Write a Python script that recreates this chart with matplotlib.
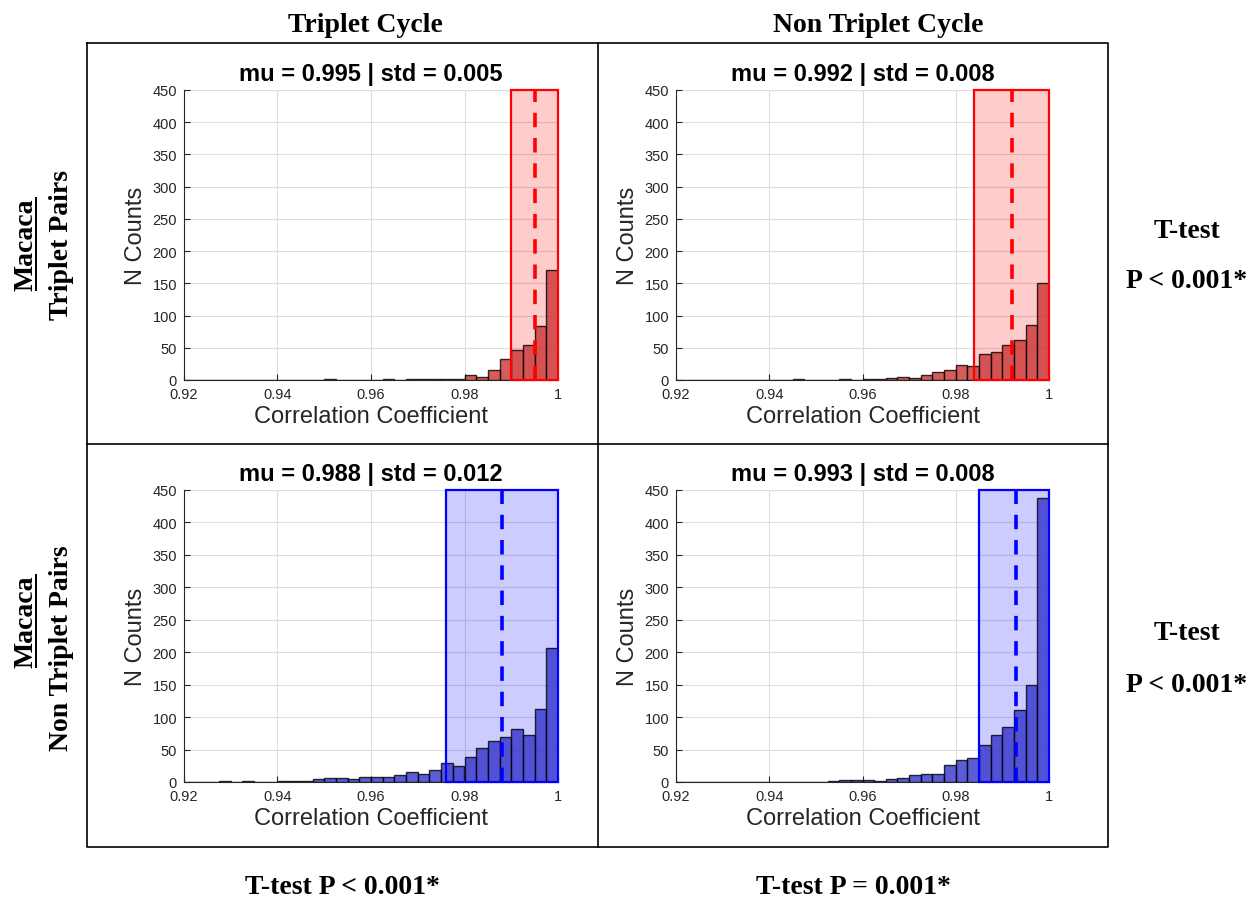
import numpy as np
import matplotlib.pyplot as plt
from matplotlib.patches import Rectangle
from matplotlib.lines import Line2D

# histogram bins (correlation coefficient)
edges = np.linspace(0.92, 1.0, 33)

# counts per bin, 32 bins from 0.92 to 1.0
tp_triplet = [0, 0, 0, 0, 0, 0, 0, 0, 0, 0, 0, 0, 1, 0, 0, 0,
              0, 1, 0, 1, 1, 1, 1, 2, 8, 4, 15, 33, 47, 54, 84, 171]
tp_nontriplet = [0, 0, 0, 0, 0, 0, 0, 0, 0, 0, 1, 0, 0, 0, 1, 0,
                 1, 1, 3, 4, 3, 8, 12, 16, 23, 22, 40, 43, 54, 62, 85, 151]
ntp_triplet = [0, 0, 0, 2, 0, 1, 0, 0, 1, 2, 1, 4, 6, 6, 4, 8,
               8, 8, 11, 15, 12, 18, 29, 24, 38, 53, 63, 70, 81, 73, 112, 206]
ntp_nontriplet = [0, 0, 0, 0, 0, 0, 0, 0, 0, 0, 0, 0, 0, 1, 3, 3,
                  3, 1, 5, 6, 11, 13, 13, 26, 34, 37, 57, 72, 84, 111, 149, 437]

means = [0.995, 0.992, 0.988, 0.993]
stds = [0.005, 0.008, 0.012, 0.008]

col_titles = ["Triplet Cycle", "Non Triplet Cycle"]
row_titles = ["Triplet Pairs", "Non Triplet Pairs"]
row_ttest = ["P < 0.001*", "P < 0.001*"]
col_ttest = ["T-test P < 0.001*", "T-test P = 0.001*"]

W, H = 1258, 903
fig = plt.figure(figsize=(W / 100, H / 100), dpi=100)


def fx(px):
    return px / W


def fy(py):
    return 1 - py / H


# panel boxes in pixels: left, top, right, bottom
boxes = [(184, 91, 558, 381), (676, 91, 1049, 381),
         (184, 491, 558, 783), (676, 491, 1049, 783)]
data = [tp_triplet, tp_nontriplet, ntp_triplet, ntp_nontriplet]
bar_cols = [(0.8, 0.2, 0.2), (0.8, 0.2, 0.2), (0.2, 0.2, 0.8), (0.2, 0.2, 0.8)]
line_cols = ["red", "red", "blue", "blue"]

sans = "Liberation Sans"
serif = "Liberation Serif"

for k in range(4):
    l, t, r, b = boxes[k]
    ax = fig.add_axes([fx(l), fy(b), fx(r - l), (b - t) / H])
    mu, sd = means[k], stds[k]
    lo, hi = mu - sd, min(mu + sd, 1.0)
    ax.add_patch(Rectangle((lo, 0), hi - lo, 450, facecolor=line_cols[k],
                           alpha=0.2, edgecolor="none", zorder=1))
    ax.add_patch(Rectangle((lo, 0), hi - lo, 450, facecolor="none",
                           edgecolor=line_cols[k], lw=1.6, zorder=4,
                           clip_on=False))
    ax.bar(edges[:-1], data[k], width=np.diff(edges), align="edge",
           color=bar_cols[k], alpha=0.8, edgecolor="black", lw=1.0, zorder=3)
    ax.plot([mu, mu], [0, 450], color=line_cols[k], lw=2.6,
            linestyle=(0, (4, 3)), zorder=5)
    ax.set_xlim(0.92, 1.0)
    ax.set_ylim(0, 450)
    ax.set_xticks([0.92, 0.94, 0.96, 0.98, 1.0])
    ax.set_xticklabels(["0.92", "0.94", "0.96", "0.98", "1"])
    ax.set_yticks(np.arange(0, 451, 50))
    ax.grid(True, color="#dddddd", lw=0.8, zorder=0)
    ax.set_axisbelow(True)
    for s in ["top", "right"]:
        ax.spines[s].set_visible(False)
    for s in ["left", "bottom"]:
        ax.spines[s].set_color("#262626")
        ax.spines[s].set_linewidth(0.8)
    ax.tick_params(direction="in", length=4, width=0.8, color="#262626",
                   labelsize=10.5, labelcolor="#262626", pad=5)
    for lab in ax.get_xticklabels() + ax.get_yticklabels():
        lab.set_family(sans)
    ax.set_xlabel("Correlation Coefficient", fontsize=17, family=sans,
                  color="#262626", labelpad=3)
    ax.set_ylabel("N Counts", fontsize=17, family=sans, color="#262626",
                  labelpad=4)
    ax.set_title("mu = %.3f | std = %.3f" % (mu, sd), fontsize=17,
                 family=sans, fontweight="bold", pad=7)

# outer table frame
frame_kw = dict(color="black", lw=1.2, transform=fig.transFigure)
fig.add_artist(Line2D([fx(87), fx(1108), fx(1108), fx(87), fx(87)],
                      [fy(44), fy(44), fy(848), fy(848), fy(44)], **frame_kw))
fig.add_artist(Line2D([fx(598), fx(598)], [fy(44), fy(848)], **frame_kw))
fig.add_artist(Line2D([fx(87), fx(1108)], [fy(445), fy(445)], **frame_kw))

hdr = dict(family=serif, fontweight="bold", fontsize=20, ha="center",
           va="center")
for i, txt in enumerate(col_titles):
    fig.text(fx([365, 878][i]), fy(25), txt, **hdr)
for i, txt in enumerate(col_ttest):
    fig.text(fx([342, 853][i]), fy(888), txt, **hdr)
for i in range(2):
    yc = [245, 648][i]
    fig.text(fx(1187), fy(yc - 14), "T-test", **hdr)
    fig.text(fx(1187), fy(yc + 37), row_ttest[i], **hdr)
    m = fig.text(fx(26), fy([245, 622][i]), "Macaca", rotation=90, **hdr)
    fig.text(fx(61), fy(yc), row_titles[i], rotation=90, **hdr)
    bb = m.get_window_extent(renderer=fig.canvas.get_renderer())
    fig.add_artist(Line2D([fx(36), fx(36)], [bb.y0 / H, bb.y1 / H],
                          color="black", lw=1.4, transform=fig.transFigure))

fig.savefig("out.png", dpi=100)
